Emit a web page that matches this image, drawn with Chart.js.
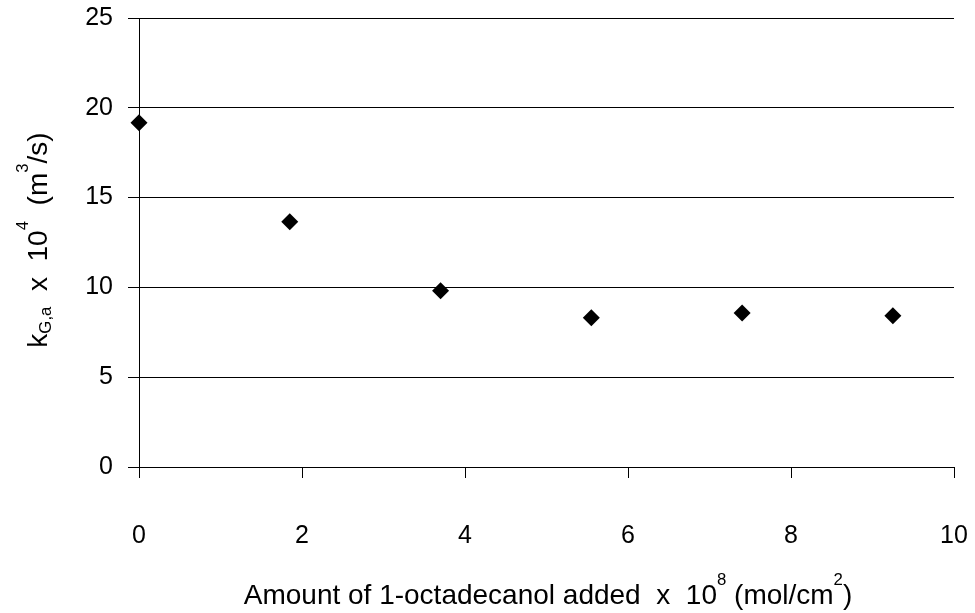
<!doctype html>
<html>
<head>
<title>kGa vs 1-octadecanol</title>
<script src="https://cdn.jsdelivr.net/npm/chart.js@4.4.1/dist/chart.umd.min.js"></script>
<style>
html, body { margin: 0; padding: 0; background: #fff; }
#wrap { width: 975px; height: 613px; }
</style>
</head>
<body>
<div id="wrap"><canvas id="canvas"></canvas></div>
<script>
var FONT = "'Liberation Sans', Arial, sans-serif";

// amount of 1-octadecanol added x 10^8 (mol/cm2)
var amountAdded = [0, 1.85, 3.7, 5.55, 7.4, 9.25];
// kG,a x 10^4 (m3/s)
var kGa = [19.17, 13.66, 9.81, 8.31, 8.58, 8.42];
var xTicks = [0, 2, 4, 6, 8, 10];
var yTicks = [0, 5, 10, 15, 20, 25];

var points = [];
for (var i = 0; i < amountAdded.length; i++) {
	points.push({ x: amountAdded[i], y: kGa[i] });
}

// draws a line of text with sub/superscript pieces, centred on (cx, cy)
function drawRich(ctx, parts, size, cx, cy) {
	var total = 0;
	parts.forEach(function(p) {
		var s = p.small ? size * 0.6 : size;
		ctx.font = s + "px " + FONT;
		p.w = ctx.measureText(p.t).width;
		total += p.w;
	});
	var x = cx - total / 2;
	ctx.textBaseline = "alphabetic";
	ctx.textAlign = "left";
	parts.forEach(function(p) {
		var s = p.small ? size * 0.6 : size;
		ctx.font = s + "px " + FONT;
		ctx.fillText(p.t, x, cy + (p.dy || 0));
		x += p.w;
	});
}

var axisTitles = {
	id: 'axisTitles',
	afterDraw: function(chart) {
		var ctx = chart.ctx;
		ctx.save();
		ctx.fillStyle = "#000";
		drawRich(ctx, [
			{ t: "Amount of 1-octadecanol added  x  10" },
			{ t: "8", small: true, dy: -19 },
			{ t: " (mol/cm" },
			{ t: "2", small: true, dy: -19 },
			{ t: ")" }
		], 28, 548, 604);

		ctx.translate(47, 240);
		ctx.rotate(-Math.PI / 2);
		drawRich(ctx, [
			{ t: "k" },
			{ t: "G,a", small: true, dy: 4 },
			{ t: "  x  10" },
			{ t: "4", small: true, dy: -19 },
			{ t: "  (m" },
			{ t: "3", small: true, dy: -19 },
			{ t: "/s)" }
		], 28, 0, 0);
		ctx.restore();
	}
};

function noPad(scale) {
	scale.paddingLeft = 0;
	scale.paddingRight = 0;
	scale.paddingTop = 0;
	scale.paddingBottom = 0;
}

new Chart(document.getElementById('canvas'), {
	type: 'scatter',
	data: {
		datasets: [{
			label: 'kGa',
			data: points,
			clip: false,
			pointStyle: 'rectRot',
			pointRadius: 8.5,
			pointHoverRadius: 8.5,
			backgroundColor: '#000',
			borderColor: '#000',
			borderWidth: 0
		}]
	},
	options: {
		responsive: true,
		maintainAspectRatio: false,
		animation: false,
		layout: { padding: { top: 18, right: 21, left: 0, bottom: 0 } },
		plugins: {
			legend: { display: false },
			tooltip: { enabled: false }
		},
		scales: {
			x: {
				type: 'linear',
				min: 0,
				max: 10,
				afterBuildTicks: function(scale) {
					scale.ticks = xTicks.map(function(v) { return { value: v }; });
				},
				afterFit: function(scale) { scale.height = 146; noPad(scale); },
				grid: { drawOnChartArea: false, drawTicks: true, tickLength: 11, color: '#000', lineWidth: 1 },
				border: { color: '#000', width: 1 },
				ticks: { color: '#000', font: { family: FONT, size: 25 }, padding: 43, maxRotation: 0 }
			},
			y: {
				type: 'linear',
				min: 0,
				max: 25,
				afterBuildTicks: function(scale) {
					scale.ticks = yTicks.map(function(v) { return { value: v }; });
				},
				afterFit: function(scale) { scale.width = 139; noPad(scale); },
				grid: { drawTicks: true, tickLength: 11, color: '#000', lineWidth: 1 },
				border: { color: '#000', width: 1 },
				ticks: { color: '#000', font: { family: FONT, size: 25 }, padding: 15 }
			}
		}
	},
	plugins: [axisTitles]
});
</script>
</body>
</html>
